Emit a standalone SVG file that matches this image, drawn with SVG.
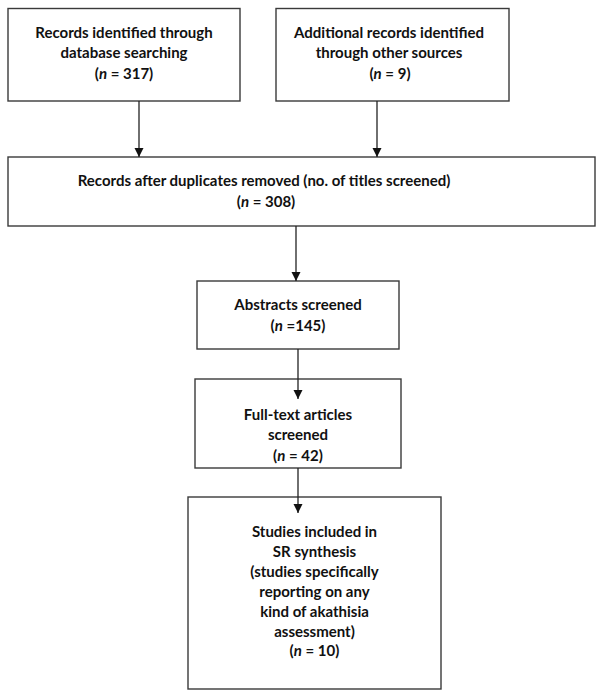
<svg xmlns="http://www.w3.org/2000/svg" width="604" height="699" viewBox="0 0 604 699">
<defs>
<style>
.box{fill:#fff;stroke:#3a3a3a;stroke-width:1.4}
.t{font-family:Lato,"Liberation Sans",Arial,sans-serif;font-weight:bold;font-size:15px;fill:#111;text-anchor:middle}
.c{stroke:#222;stroke-width:1.3;fill:none}
</style>
<marker id="ah" markerUnits="userSpaceOnUse" markerWidth="10" markerHeight="11" refX="9" refY="4.5" orient="auto">
<path d="M0,0 L9,4.5 L0,9 z" fill="#111"/>
</marker>
</defs>
<rect width="604" height="699" fill="#fff"/>
<g id="n1">
<rect class="box" x="8" y="8.5" width="232" height="92.5"/>
<text class="t" x="124" y="38">Records identified through</text>
<text class="t" x="124" y="58">database searching</text>
<text class="t" x="124" y="79">(<tspan font-style="italic">n</tspan> = 317)</text>
</g>
<g id="n2">
<rect class="box" x="276" y="8.5" width="233" height="92.5"/>
<text class="t" x="389" y="38">Additional records identified</text>
<text class="t" x="389" y="58">through other sources</text>
<text class="t" x="390" y="79">(<tspan font-style="italic">n</tspan> = 9)</text>
</g>
<g id="n3">
<rect class="box" x="8" y="157" width="587" height="69"/>
<text class="t" x="264" y="186">Records after duplicates removed (no. of titles screened)</text>
<text class="t" x="266" y="207">(<tspan font-style="italic">n</tspan> = 308)</text>
</g>
<g id="n4">
<rect class="box" x="197" y="281" width="202" height="68"/>
<text class="t" x="298" y="310">Abstracts screened</text>
<text class="t" x="298" y="331">(<tspan font-style="italic">n</tspan> =145)</text>
</g>
<g id="n5">
<rect class="box" x="195" y="379" width="206" height="89"/>
<text class="t" x="298" y="420">Full-text articles</text>
<text class="t" x="298" y="440">screened</text>
<text class="t" x="298" y="461">(<tspan font-style="italic">n</tspan> = 42)</text>
</g>
<g id="n6">
<rect class="box" x="188" y="497" width="253" height="192"/>
<text class="t" x="314.5" y="537">Studies included in</text>
<text class="t" x="314.5" y="557">SR synthesis</text>
<text class="t" x="314.5" y="577">(studies specifically</text>
<text class="t" x="314.5" y="597">reporting on any</text>
<text class="t" x="314.5" y="617">kind of akathisia</text>
<text class="t" x="314.5" y="637">assessment)</text>
<text class="t" x="314.5" y="656">(<tspan font-style="italic">n</tspan> = 10)</text>
</g>
<g id="connectors">
<line class="c" x1="139" y1="101" x2="139" y2="157" marker-end="url(#ah)"/>
<line class="c" x1="377" y1="101" x2="377" y2="157" marker-end="url(#ah)"/>
<line class="c" x1="296" y1="226" x2="296" y2="281" marker-end="url(#ah)"/>
<line class="c" x1="298" y1="349" x2="298" y2="399" marker-end="url(#ah)"/>
<line class="c" x1="298" y1="468" x2="298" y2="513" marker-end="url(#ah)"/>
</g>
</svg>
